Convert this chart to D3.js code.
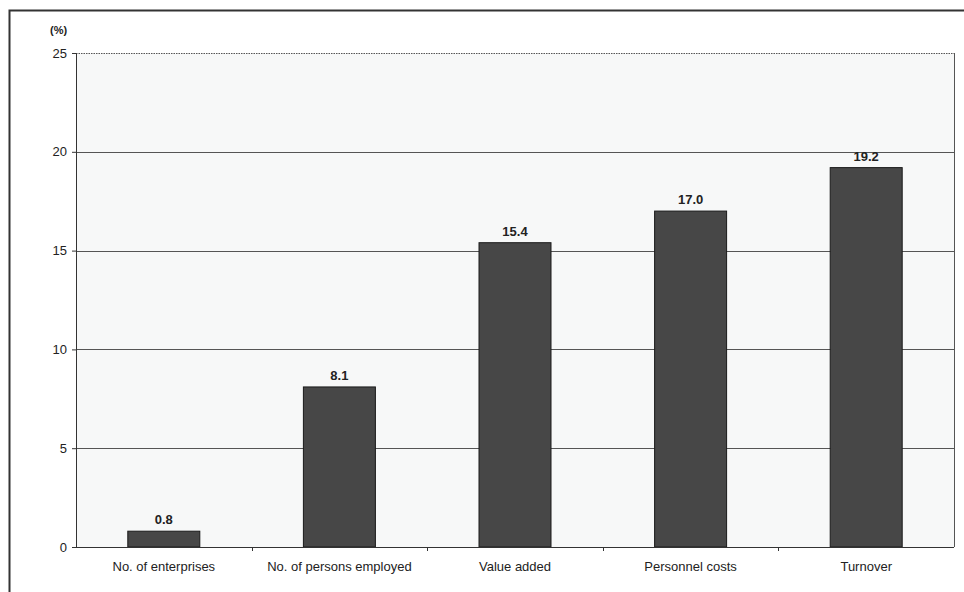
<!DOCTYPE html>
<html><head><meta charset="utf-8">
<script src="https://cdn.jsdelivr.net/npm/d3@7"></script>
<style>body{margin:0;background:#fff;} svg{display:block;}</style>
</head><body>
<svg id="c" width="964" height="592"></svg>
<script>
const categories = ["No. of enterprises","No. of persons employed","Value added","Personnel costs","Turnover"];
const values = [0.8, 8.1, 15.4, 17.0, 19.2];
const yTicks = [0, 5, 10, 15, 20, 25];
const yUnit = "(%)";

const svg = d3.select("#c");
const m = {left: 76, right: 954, top: 53, bottom: 547};
const font = "Liberation Sans, Arial, sans-serif";

// outer frame
svg.append("path").attr("d", "M9.5,592 L9.5,10.5 L964,10.5")
  .attr("fill","none").attr("stroke","#333").attr("stroke-width",2);

// plot background
svg.append("rect").attr("x", m.left).attr("y", m.top).attr("width", m.right-m.left).attr("height", m.bottom-m.top)
  .attr("fill","#f7f8f8");

const x = d3.scaleBand().domain(categories).range([m.left, m.right]).paddingInner(0.59).paddingOuter(0.295);
const y = d3.scaleLinear().domain([0, 25]).range([m.bottom, m.top]);

// gridlines
svg.append("g").selectAll("line").data(yTicks.filter(t => t > 0)).join("line")
  .attr("x1", m.left).attr("x2", m.right)
  .attr("y1", d => Math.round(y(d)) + 0.5).attr("y2", d => Math.round(y(d)) + 0.5)
  .attr("stroke", "#555").attr("stroke-width", 1)
  .attr("stroke-dasharray", d => d === 25 ? "1.5,1" : null);

// right border
svg.append("line").attr("x1", m.right+0.5).attr("x2", m.right+0.5).attr("y1", m.top).attr("y2", m.bottom)
  .attr("stroke","#555");

// bars
svg.append("g").selectAll("rect").data(values).join("rect")
  .attr("x", (d,i) => x(categories[i]))
  .attr("width", x.bandwidth())
  .attr("y", d => y(d))
  .attr("height", d => y(0) - y(d))
  .attr("fill", "#474747").attr("stroke", "#1a1a1a").attr("stroke-width", 1);

// value labels
svg.append("g").selectAll("text").data(values).join("text")
  .attr("x", (d,i) => x(categories[i]) + x.bandwidth()/2)
  .attr("y", d => y(d) - 7)
  .attr("text-anchor","middle").attr("font-family", font).attr("font-size", 13).attr("font-weight","bold")
  .attr("fill","#222")
  .text(d => d.toFixed(1));

// y axis
const yAxis = svg.append("g").attr("transform", `translate(${m.left},0)`)
  .call(d3.axisLeft(y).tickValues(yTicks).tickSize(4).tickPadding(5).tickFormat(d3.format("d")));
yAxis.select(".domain").attr("stroke","#333");
yAxis.selectAll(".tick line").attr("stroke","#333");
yAxis.selectAll("text").attr("font-family", font).attr("font-size", 13).attr("fill","#222");

// x axis
const xAxis = svg.append("g").attr("transform", `translate(0,${m.bottom})`)
  .call(d3.axisBottom(x).tickSize(0).tickPadding(15));
xAxis.select(".domain").attr("stroke","#333").attr("d", `M${m.left},0.5H${m.right}`);
xAxis.selectAll("text").attr("font-family", font).attr("font-size", 13).attr("fill","#222");
// category boundary ticks
const bounds = categories.map(c => x(c) - x.step()*x.paddingInner()/2 ).slice(1);
svg.append("g").selectAll("line").data(bounds).join("line")
  .attr("x1", d => Math.round(d)+0.5).attr("x2", d => Math.round(d)+0.5)
  .attr("y1", m.bottom).attr("y2", m.bottom + 4).attr("stroke","#333");

// unit label
svg.append("text").attr("x", 50).attr("y", 34).attr("font-family", font).attr("font-size", 11)
  .attr("font-weight","bold").attr("fill","#222").text(yUnit);
</script>
</body></html>
